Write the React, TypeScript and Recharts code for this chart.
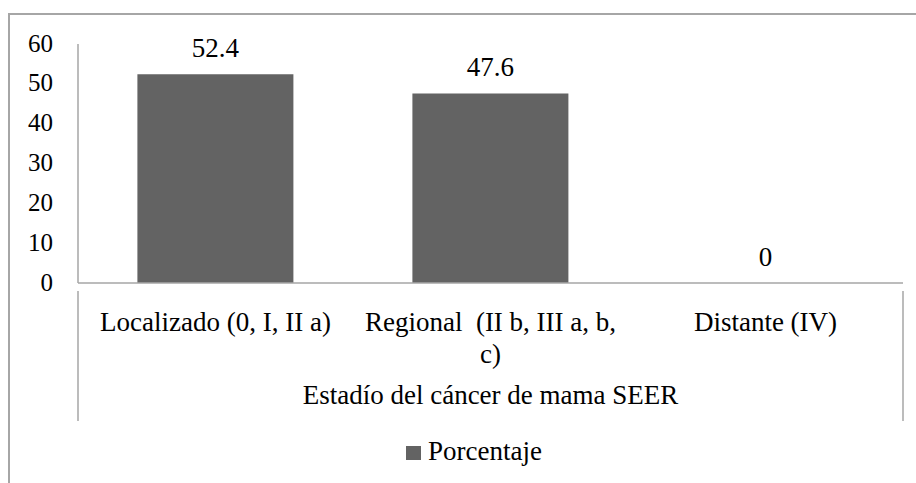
import React from 'react';
import { BarChart, Bar, XAxis, YAxis, Legend, LabelList } from 'recharts';

const categories = ['Localizado (0, I, II a)', 'Regional  (II b, III a, b,|c)', 'Distante (IV)'];
const porcentaje = [52.4, 47.6, 0];
const yTicks = [0, 10, 20, 30, 40, 50, 60];

const FONT = "'Liberation Serif', 'Times New Roman', serif";
const AXIS_GREY = '#a6a6a6';
const BAR_GREY = '#636363';
const textStyle = { fontFamily: FONT, fontSize: 27 };

const data = categories.map((name, i) => ({ name, value: porcentaje[i] }));

function YTick(props: any) {
    const { y, payload } = props;
    return (
        <text x={53} y={y + 7.5} textAnchor="end" fill="#000" style={{ fontFamily: FONT, fontSize: 25 }}>
            {payload.value}
        </text>
    );
}

function XTick(props: any) {
    const { x, y, payload, index, width } = props;
    const lines = String(payload.value).split('|');
    const step = width / categories.length;
    return (
        <g>
            {lines.map((line, i) => (
                <text key={i} x={x} y={y + 40 + i * 32} textAnchor="middle" xmlSpace="preserve"
                    fill="#000" style={{ ...textStyle, whiteSpace: 'pre' }}>
                    {line}
                </text>
            ))}
            {index === 0 && <line x1={x - step / 2} x2={x - step / 2} y1={y} y2={y + 130} stroke={AXIS_GREY} strokeWidth={1.5} />}
            {index === categories.length - 1 && <line x1={x + step / 2} x2={x + step / 2} y1={y} y2={y + 130} stroke={AXIS_GREY} strokeWidth={1.5} />}
        </g>
    );
}

function LegendContent() {
    return (
        <div style={{ display: 'flex', alignItems: 'center', lineHeight: '30px', ...textStyle }}>
            <span style={{ width: 15, height: 14, background: BAR_GREY, display: 'inline-block', marginRight: 7, marginTop: 4 }} />
            <span>Porcentaje</span>
        </div>
    );
}

function AxisTitle(props: any) {
    const { viewBox } = props;
    return (
        <text x={viewBox.x + viewBox.width / 2} y={viewBox.y + 121} textAnchor="middle" fill="#000" style={textStyle}>
            Estadío del cáncer de mama SEER
        </text>
    );
}

export default function App() {
    return (
        <div style={{ position: 'absolute', left: 0, top: 0, width: 916, height: 483, background: '#fff', overflow: 'hidden' }}>
            <div style={{ position: 'absolute', left: 8, top: 13, width: 920, height: 480, borderTop: `2px solid ${AXIS_GREY}`, borderLeft: `2px solid ${AXIS_GREY}` }} />
            <BarChart width={916} height={483} data={data} margin={{ top: 44, right: 13, left: 0, bottom: 0 }} barCategoryGap="21.6%">
                <XAxis dataKey="name" height={200} tickLine={false} interval={0} stroke={AXIS_GREY} strokeWidth={1.5} tick={<XTick />}
                    label={<AxisTitle />} />
                <YAxis width={78} domain={[0, 60]} ticks={yTicks} tickLine={false} stroke={AXIS_GREY} strokeWidth={1.5} tick={<YTick />} />
                <Legend verticalAlign="middle" align="center" layout="horizontal" content={<LegendContent />}
                    wrapperStyle={{ top: 436, left: 406, width: 300 }} />
                <Bar dataKey="value" name="Porcentaje" fill={BAR_GREY} minPointSize={0.01} isAnimationActive={false}>
                    <LabelList dataKey="value" position="top" offset={17} fill="#000" style={textStyle} />
                </Bar>
            </BarChart>
        </div>
    );
}
